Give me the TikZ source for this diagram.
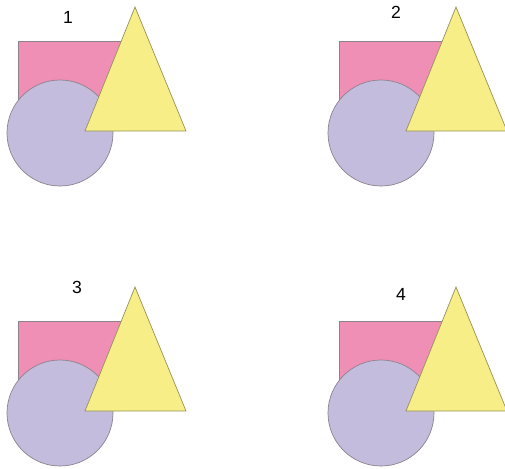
\documentclass[tikz,border=0pt]{standalone}
\usepackage{fontspec}
\setmainfont{Liberation Sans}
\usepackage{tikz}
\usepackage{xcolor}
\definecolor{rosepink}{RGB}{239,143,181}
\definecolor{lilac}{RGB}{196,188,220}
\definecolor{lemon}{RGB}{247,238,136}
\definecolor{edgegray}{RGB}{140,130,140}
\definecolor{edgeolive}{RGB}{150,145,90}

\begin{document}
\begin{tikzpicture}[x=0.02cm, y=-0.02cm,
    numlabel/.style={font=\fontsize{10}{12}\selectfont, inner sep=0pt}]
  \useasboundingbox (0,0) rectangle (505,468);
  \clip (0,0) rectangle (505,468);
  % four copies: x offset, y offset, label x, label y, number
  \foreach \ox/\oy/\lx/\ly/\num in {0/0/68/17/1, 321/0/396/12/2,
                                   0/280/77/287/3, 321/280/401/294/4}{
    \begin{scope}[shift={(\ox,\oy)}]
      % square
      \fill[rosepink] (18,41) rectangle (125,128);
      \draw[edgegray, thin] (18,128) -- (18,41) -- (125,41);
      % circle
      \filldraw[fill=lilac, draw=edgegray, thin] (60,133) circle[radius=53];
      % triangle
      \filldraw[fill=lemon, draw=edgeolive, thin]
        (135,7) -- (186,131) -- (85,131) -- cycle;
    \end{scope}
    \node[numlabel] (lab\num) at (\lx,\ly) {\num};
  }
\end{tikzpicture}
\end{document}
